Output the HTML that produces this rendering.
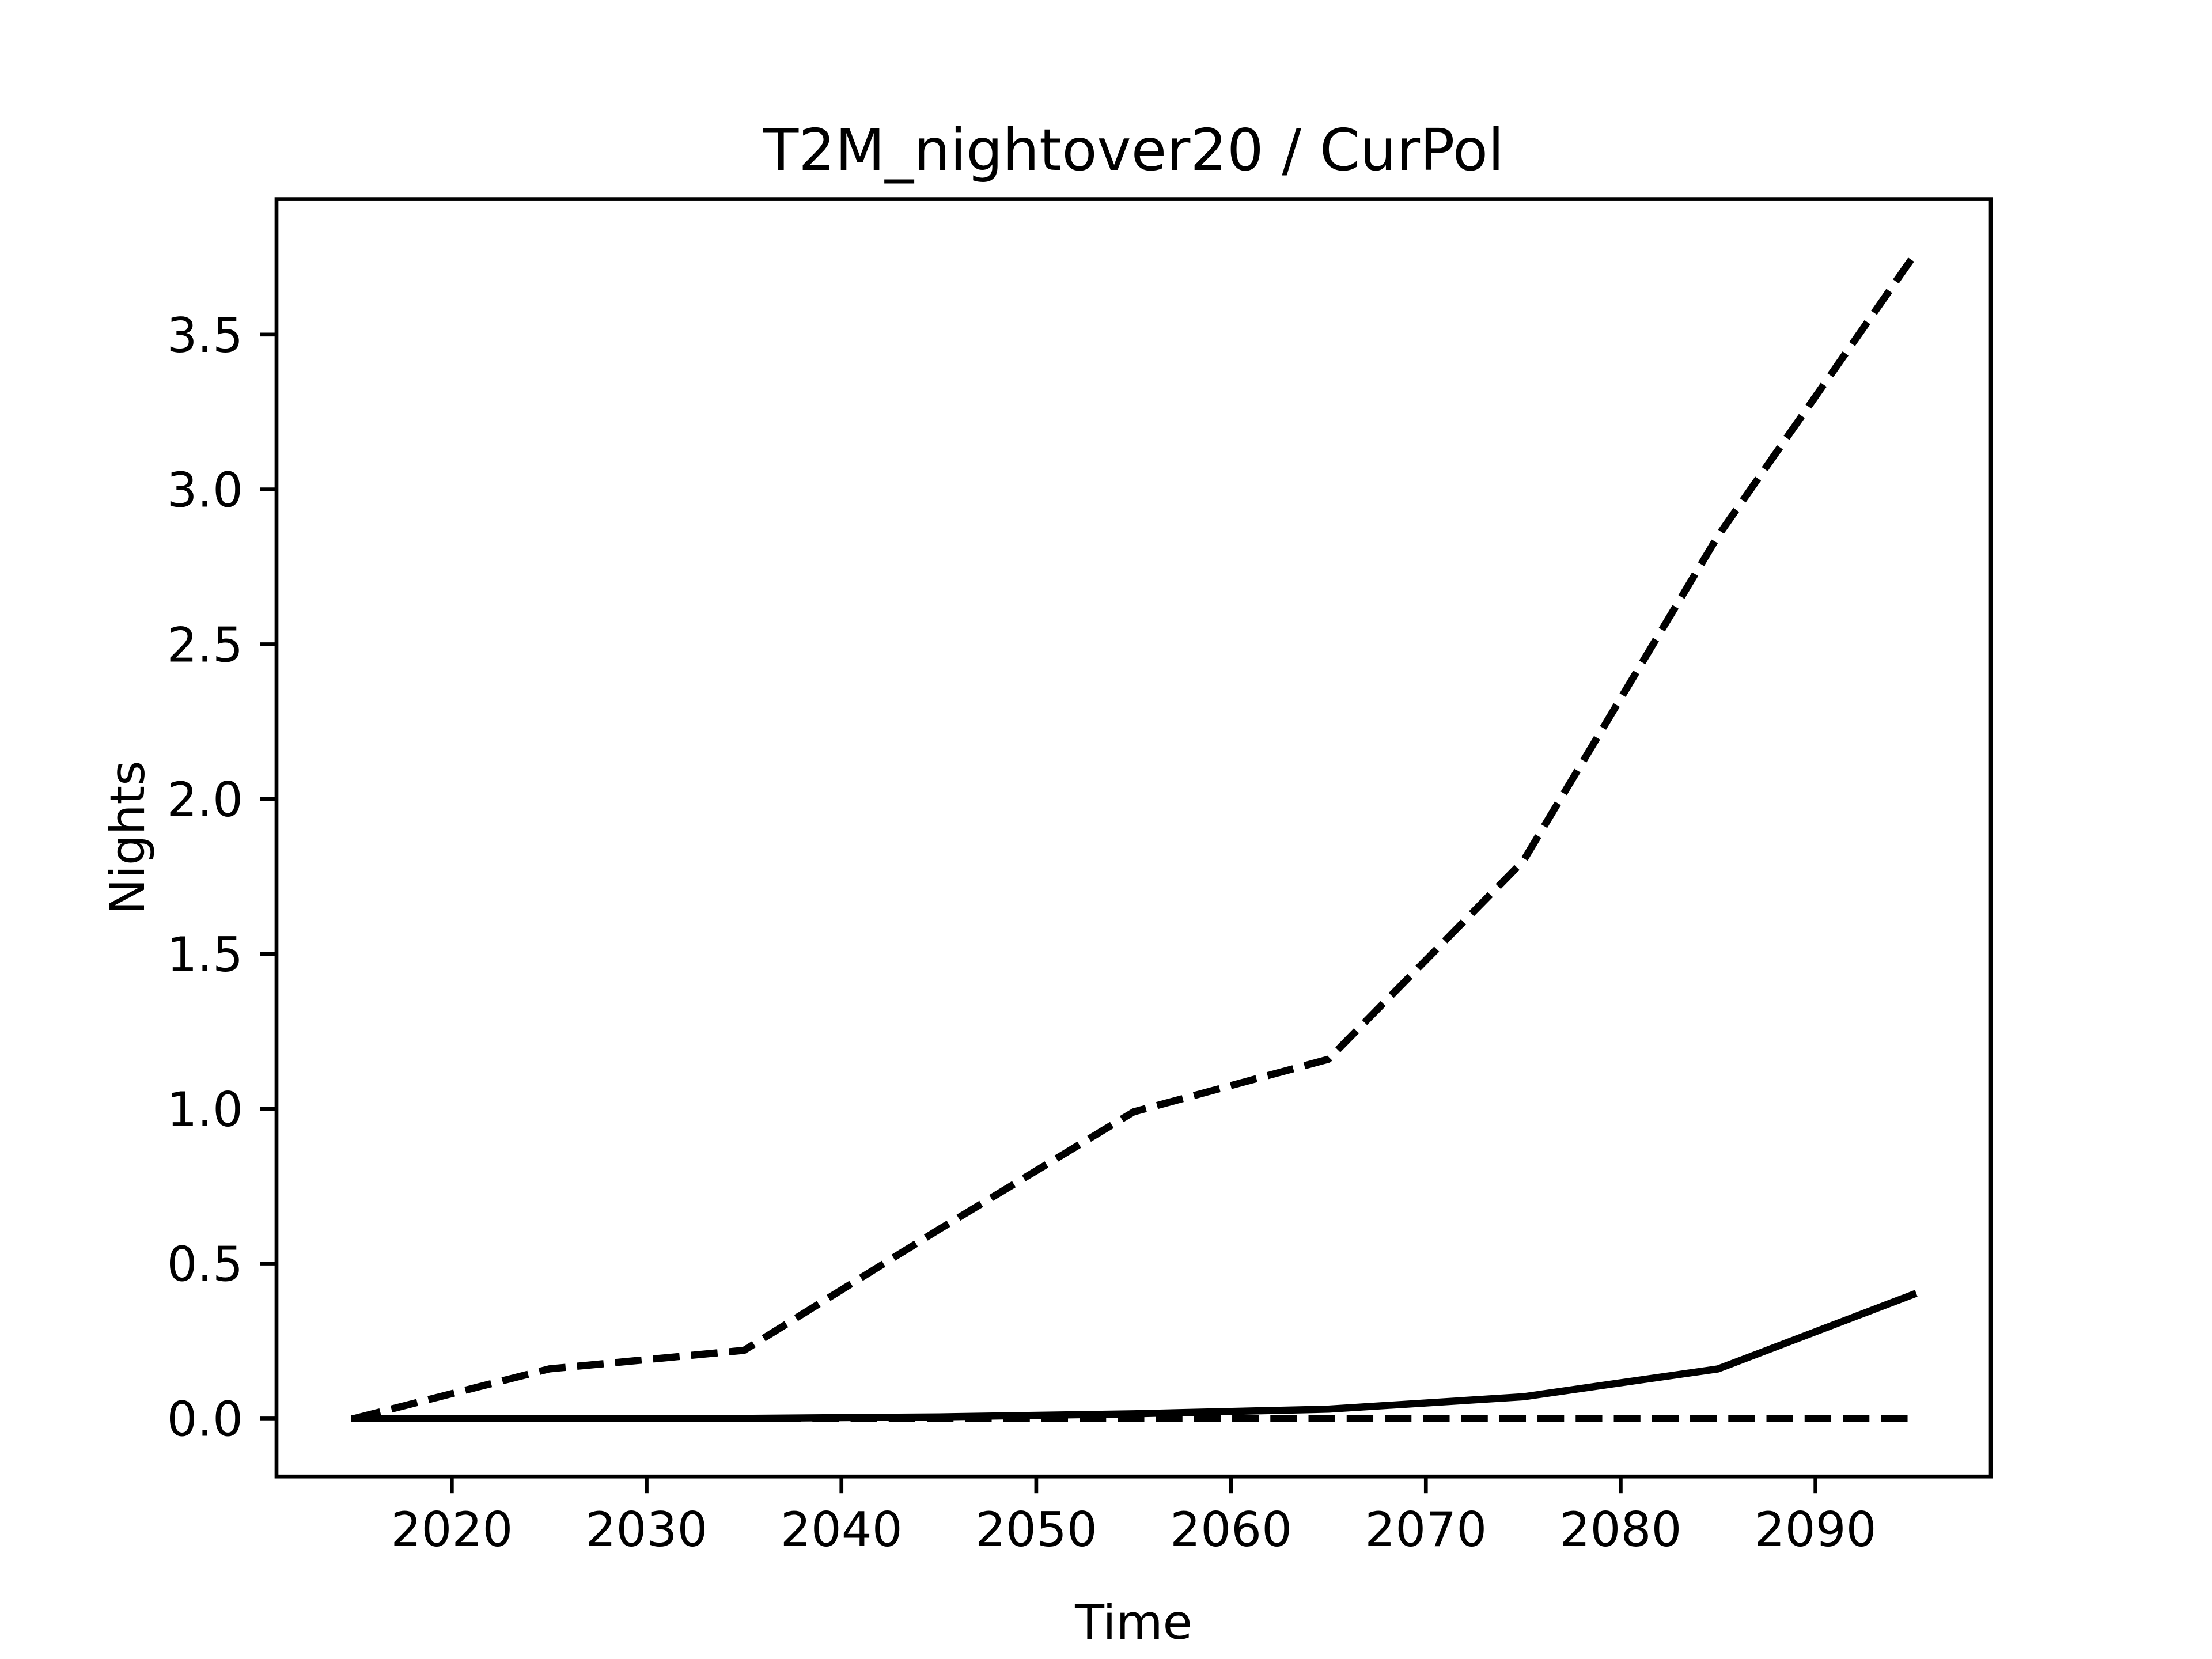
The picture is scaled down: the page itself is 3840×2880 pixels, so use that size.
<!DOCTYPE html>
<html><head><meta charset="utf-8"><style>html,body{margin:0;padding:0;background:#fff}svg{display:block}</style></head>
<body>
<svg id="chart" width="3840" height="2880" viewBox="0 0 3840 2880" xmlns="http://www.w3.org/2000/svg" font-family="'DejaVu Sans','Liberation Sans',sans-serif">
<rect width="3840" height="2880" fill="#fff"/>
<text x="1968" y="295" font-size="100" text-anchor="middle">T2M_nightover20 / CurPol</text>
<g id="plot"></g>
<rect x="480" y="345.6" width="2976" height="2217.6" fill="none" stroke="#000" stroke-width="6.67"/>
<text x="1968" y="2845" font-size="83.3" text-anchor="middle">Time</text>
<text transform="translate(250,1454) rotate(-90)" font-size="83.3" text-anchor="middle">Nights</text>
</svg>
<script>
const years = [2015,2025,2035,2045,2055,2065,2075,2085,2095];
const upperValues = [0,0.16,0.22,0.61,0.99,1.16,1.80,2.85,3.75];
const meanValues = [0,0,0,0.005,0.015,0.03,0.07,0.16,0.40];
const lowerValues = [0,0,0,0,0,0,0,0,0];
const xTicks = [2020,2030,2040,2050,2060,2070,2080,2090];
const yTicks = [0,0.5,1,1.5,2,2.5,3,3.5];
const yTickLabels = ["0.0","0.5","1.0","1.5","2.0","2.5","3.0","3.5"];

const L=480,R=3456,T=345.6,B=2563.2;
const all=[...upperValues,...meanValues,...lowerValues];
const ymin=Math.min(...all),ymax=Math.max(...all),yr=ymax-ymin;
const y0=ymin-0.05*yr,y1=ymax+0.05*yr;
const xmin0=Math.min(...years),xmax0=Math.max(...years),xr=xmax0-xmin0;
const x0=xmin0-0.05*xr,x1=xmax0+0.05*xr;
const sx=v=>L+(v-x0)/(x1-x0)*(R-L);
const sy=v=>B-(v-y0)/(y1-y0)*(B-T);
const NS='http://www.w3.org/2000/svg';
const g=document.getElementById('plot');
function mk(tag,attrs){const e=document.createElementNS(NS,tag);for(const k in attrs)e.setAttribute(k,attrs[k]);g.appendChild(e);return e;}
function series(vals,dash,name){
  const p=mk('polyline',{points:years.map((y,i)=>sx(y)+','+sy(vals[i])).join(' '),fill:'none',stroke:'#000','stroke-width':12.5,'stroke-linecap':dash?'butt':'square','stroke-linejoin':'round'});
  if(dash)p.setAttribute('stroke-dasharray','46.25 20');
  
  
}
series(lowerValues,true,'lower-bound-line');
series(meanValues,false,'mean-line');
series(upperValues,true,'upper-bound-line');
xTicks.forEach(t=>{
  const l=mk('line',{x1:sx(t),x2:sx(t),y1:B,y2:B+29,stroke:'#000','stroke-width':6.67});
  
  
  const tx=mk('text',{x:sx(t),y:B+58+63,'font-size':83.3,'text-anchor':'middle'});
  tx.textContent=t;
  
  
});
yTicks.forEach((t,i)=>{
  const l=mk('line',{x1:L-29,x2:L,y1:sy(t),y2:sy(t),stroke:'#000','stroke-width':6.67});
  
  
  const tx=mk('text',{x:L-58,y:sy(t)+30,'font-size':83.3,'text-anchor':'end'});
  tx.textContent=yTickLabels[i];
  
  
});
</script>
</body></html>
